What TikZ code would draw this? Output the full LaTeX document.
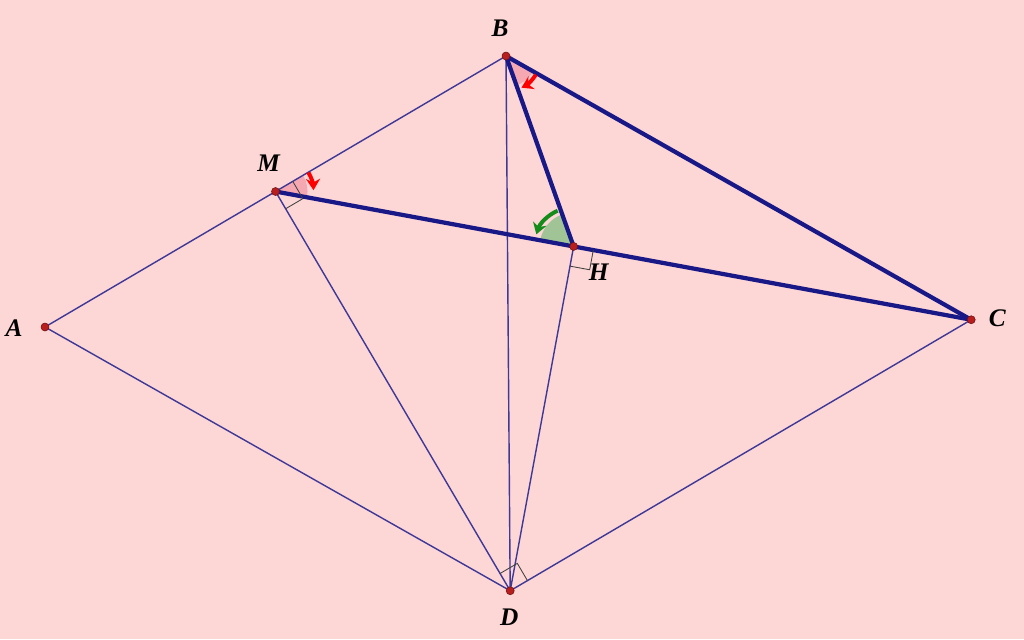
\documentclass[tikz,border=0pt]{standalone}
\usepackage{fontspec}
\setmainfont{Liberation Serif}
\usetikzlibrary{calc,angles,arrows.meta}
\definecolor{bgpink}{RGB}{253,214,214}
\definecolor{thinblue}{RGB}{62,56,150}
\definecolor{thickblue}{RGB}{24,24,135}
\definecolor{ptred}{RGB}{185,30,30}
\definecolor{wedgepink}{RGB}{246,168,178}
\definecolor{wedgegreen}{RGB}{160,196,150}
\definecolor{arrgreen}{RGB}{20,140,25}
\begin{document}
\begin{tikzpicture}[x=0.025cm,y=0.025cm,
  seg/.style={thinblue, line width=1pt},
  boldseg/.style={thickblue, line width=3pt},
  rmark/.style={draw=black!75, line width=0.6pt, angle radius=0.5cm},
  turn/.style={line width=2.8pt, -{Stealth[length=8pt,width=10pt]}},
  lbl/.style={font=\fontsize{18}{20}\selectfont\bfseries\itshape}]
\fill[bgpink] (0,0) rectangle (1024,-639);
% rhombus ABCD, ABD equilateral
\coordinate (A) at (45,-327);
\coordinate (B) at (506,-56);
\coordinate (D) at ($(A)!1!-60:(B)$);
\coordinate (C) at ($(B)+(D)-(A)$);
\coordinate (M) at ($(A)!0.5!(B)$);
\coordinate (H) at ($(M)!(D)!(C)$);
% angle wedges
\pic[fill=wedgepink, angle radius=0.8cm] {angle=H--M--B};
\pic[fill=wedgepink, angle radius=0.78cm] {angle=H--B--C};
\pic[fill=wedgegreen, angle radius=0.85cm] {angle=B--H--M};
% thin sides
\draw[seg] (A) -- (B);
\draw[seg] (A) -- (D);
\draw[seg] (C) -- (D);
\draw[seg] (B) -- (D);
\draw[seg] (M) -- (D);
\draw[seg] (H) -- (D);
% thick sides
\draw[boldseg] (M) -- (C);
\draw[boldseg] (B) -- (H);
\draw[boldseg] (B) -- (C);
% right angles
\pic[rmark] {right angle=B--M--D};
\pic[rmark] {right angle=D--H--C};
\pic[rmark] {right angle=C--D--M};
% turning arrows
\draw[turn, red] ($(M)+(30:0.95cm)$) arc[start angle=30, end angle=2, radius=0.95cm];
\draw[turn, red] ($(B)+(-32:0.88cm)$) arc[start angle=-32, end angle=-64, radius=0.88cm];
\draw[turn, arrgreen] ($(H)+(114:0.98cm)$) arc[start angle=114, end angle=162, radius=0.98cm];
% points
\foreach \p in {A,B,C,D,M,H}
  \fill[ptred, draw=ptred!60!black, line width=0.4pt] (\p) circle[radius=0.1cm];
% labels
\node[lbl] at ($(A)+(-31,-1)$) {A};
\node[lbl] at ($(B)+(-6,28)$) {B};
\node[lbl] at ($(C)+(26,2)$) {C};
\node[lbl] at ($(D)+(-1,-26)$) {D};
\node[lbl] at ($(M)+(-7,28)$) {M};
\node[lbl] at ($(H)+(25,-26)$) {H};
\end{tikzpicture}
\end{document}
